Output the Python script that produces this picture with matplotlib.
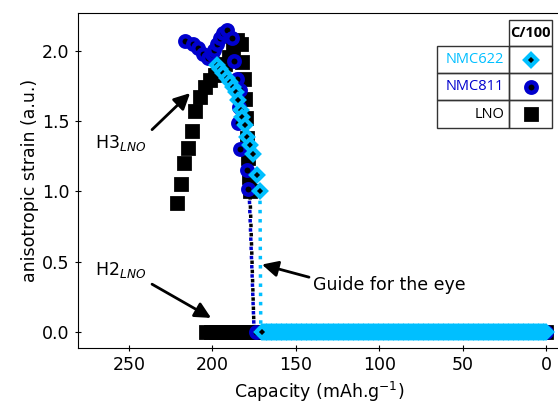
import matplotlib.pyplot as plt
from matplotlib.patches import Rectangle
from matplotlib.lines import Line2D

# LNO: H2 -> H3 branch (capacity in mAh/g, anisotropic strain)
lno_cap = [221.5, 219.0, 216.8, 214.4, 212.4, 210.4, 207.3, 204.3, 201.4, 198.5,
           195.5, 192.5, 190.0, 187.5, 185.0, 183.0, 182.0, 181.0, 180.5, 180.0,
           179.5, 178.5, 178.0, 177.5]
lno_strain = [0.92, 1.05, 1.20, 1.31, 1.43, 1.57, 1.67, 1.74, 1.79, 1.83,
              1.87, 1.91, 1.96, 2.02, 2.08, 2.05, 1.92, 1.80, 1.66, 1.52,
              1.38, 1.24, 1.10, 1.00]
lno_zero_cap = [0, 3, 6, 9, 12, 15, 18, 21, 24, 27, 30, 33, 36, 39, 42, 45, 48,
                51, 54, 57, 60, 63, 66, 69, 72, 75, 78, 81, 84, 87, 90, 93, 96,
                99, 102, 105, 108, 111, 114, 117, 120, 123, 126, 129, 132, 135,
                138, 141, 144, 147, 150, 153, 156, 159, 162, 165, 168, 171, 174,
                177, 180, 183, 186, 189, 192, 195, 198, 201, 204]
lno_guide_cap = [177.5, 175.0]
lno_guide_strain = [1.00, 0.00]

# NMC811
nmc811_cap = [216.4, 211.4, 208.4, 205.4, 202.4, 200.4, 198.8, 197.4, 195.4, 193.5,
              191.4, 188.4, 187.0, 185.5, 183.5, 184.0, 184.5, 183.5, 179.5, 178.5]
nmc811_strain = [2.07, 2.05, 2.02, 1.98, 1.95, 1.98, 2.01, 2.05, 2.09, 2.13,
                 2.15, 2.09, 1.93, 1.80, 1.72, 1.60, 1.49, 1.30, 1.15, 1.02]
nmc811_zero_cap = [0, 2, 6, 10, 14, 18, 22, 26, 30, 34, 38, 42, 46, 50, 54, 58,
                   62, 66, 70, 74, 78, 82, 86, 90, 94, 98, 102, 106, 110, 114,
                   118, 122, 126, 130, 134, 138, 142, 146, 150, 154, 158, 162,
                   166, 170, 174]
nmc811_guide_cap = [178.0, 175.0]
nmc811_guide_strain = [1.00, 0.00]

# NMC622
nmc622_cap = [197.5, 195.5, 193.5, 191.5, 189.5, 187.5, 186.0, 184.5, 183.0, 182.0,
              180.5, 179.5, 177.5, 175.5, 173.5, 171.5]
nmc622_strain = [1.90, 1.87, 1.84, 1.81, 1.78, 1.74, 1.71, 1.65, 1.58, 1.53,
                 1.47, 1.39, 1.33, 1.27, 1.12, 1.00]
nmc622_zero_cap = [
    0, 1, 2, 3, 4, 5, 6, 7, 8, 9, 10, 11, 12, 13, 14, 15, 16, 17, 18, 19,
    20, 21, 22, 23, 24, 25, 26, 27, 28, 29, 30, 31, 32, 33, 34, 35, 36, 37,
    38, 39, 40, 41, 42, 43, 44, 45, 46, 47, 48, 49, 50, 51, 52, 53, 54, 55,
    56, 57, 58, 59, 60, 61, 62, 63, 64, 65, 66, 67, 68, 69, 70, 71, 72, 73,
    74, 75, 76, 77, 78, 79, 80, 81, 82, 83, 84, 85, 86, 87, 88, 89, 90, 91,
    92, 93, 94, 95, 96, 97, 98, 99, 100, 101, 102, 103, 104, 105, 106, 107,
    108, 109, 110, 111, 112, 113, 114, 115, 116, 117, 118, 119, 120, 121,
    122, 123, 124, 125, 126, 127, 128, 129, 130, 131, 132, 133, 134, 135,
    136, 137, 138, 139, 140, 141, 142, 143, 144, 145, 146, 147, 148, 149,
    150, 151, 152, 153, 154, 155, 156, 157, 158, 159, 160, 161, 162, 163,
    164, 165, 166, 167, 168, 169, 170.5]
nmc622_guide_cap = [171.5, 171.0]
nmc622_guide_strain = [1.00, 0.00]

materials = ["NMC622", "NMC811", "LNO"]
rate_label = "C/100"

CYAN = "#00BFFF"
BLUE = "#0000CD"

lno_style = dict(marker="s", ms=8, mfc="black", mec="black", mew=2, ls="none")
nmc811_style = dict(marker="o", ms=7.5, mfc="black", mec=BLUE, mew=3.2, ls="none")
nmc622_style = dict(marker="D", ms=6.5, mfc="black", mec=CYAN, mew=3.0, ls="none")

fig = plt.figure(figsize=(5.58, 4.07), dpi=100)
ax = fig.add_axes([78 / 558, 59 / 407, 482 / 558, 335 / 407])

# dotted guides; black and blue dots staggered so both stay visible
ax.plot(lno_guide_cap, lno_guide_strain, ls=(1.3, (1, 1.65)), lw=2.5, color="black")
ax.plot(nmc811_guide_cap, nmc811_guide_strain, ls=(0, (1, 1.65)), lw=2.5, color=BLUE)
ax.plot(nmc622_guide_cap, nmc622_guide_strain, ls=":", lw=2.5, color=CYAN)

# LNO
ax.plot(lno_cap, lno_strain, **lno_style)
ax.plot(lno_zero_cap, [0] * len(lno_zero_cap), **lno_style)

# NMC811
ax.plot(nmc811_cap, nmc811_strain, **nmc811_style)
ax.plot(nmc811_zero_cap, [0] * len(nmc811_zero_cap), **nmc811_style)

# NMC622
ax.plot(nmc622_cap, nmc622_strain, **nmc622_style)
ax.plot(nmc622_zero_cap, [0] * len(nmc622_zero_cap), **nmc622_style)

ax.set_xlim(280.6, -8.4)
ax.set_ylim(-0.114, 2.27)
ax.set_xticks([250, 200, 150, 100, 50, 0])
ax.set_yticks([0.0, 0.5, 1.0, 1.5, 2.0])
ax.tick_params(direction="inout", length=5, labelsize=12.5)
ax.set_xlabel("Capacity (mAh.g$^{-1}$)", fontsize=12.5)
ax.set_ylabel("anisotropic strain (a.u.)", fontsize=12.5, labelpad=2)

# phase annotations
arrow = dict(arrowstyle="-|>", color="black", lw=2, mutation_scale=24,
             shrinkA=0, shrinkB=0)
ax.text(270.4, 1.345, "H3$_{LNO}$", fontsize=12.5, va="center", ha="left")
ax.annotate("", xy=(213.4, 1.70), xytext=(236.2, 1.44), arrowprops=arrow)
ax.text(270.4, 0.44, "H2$_{LNO}$", fontsize=12.5, va="center", ha="left")
ax.annotate("", xy=(200.8, 0.10), xytext=(236.2, 0.34), arrowprops=arrow)
ax.text(139.7, 0.335, "Guide for the eye", fontsize=12.5, va="center", ha="left")
ax.annotate("", xy=(170.3, 0.48), xytext=(142.1, 0.39), arrowprops=arrow)

# table-style legend in the upper right corner (pixel layout)
W, H = 558, 407


def fx(px):
    return px / W


def fy(py):
    return 1 - py / H


edge = "#333333"
name_l, name_r, mark_r = 437, 509, 552
rows = [46, 73, 100, 128]
fig.add_artist(Rectangle((fx(name_r), fy(rows[0])), fx(mark_r) - fx(name_r),
                         fy(20) - fy(rows[0]), transform=fig.transFigure,
                         fill=False, ec=edge, lw=1))
fig.text(fx((name_r + mark_r) / 2), fy(33), rate_label, ha="center", va="center",
         fontsize=10.5, fontweight="bold", family="Open Sans")

name_colors = [CYAN, BLUE, "black"]
styles = [nmc622_style, nmc811_style, lno_style]
for i, (name, col, st) in enumerate(zip(materials, name_colors, styles)):
    top, bot = rows[i], rows[i + 1]
    for left, right in [(name_l, name_r), (name_r, mark_r)]:
        fig.add_artist(Rectangle((fx(left), fy(bot)), fx(right) - fx(left),
                                 fy(top) - fy(bot), transform=fig.transFigure,
                                 fill=False, ec=edge, lw=1))
    yc = fy((top + bot) / 2)
    fig.text(fx(name_r - 5), yc, name, ha="right", va="center", color=col,
             fontsize=10.5, family="Open Sans")
    fig.add_artist(Line2D([fx((name_r + mark_r) / 2)], [yc],
                          transform=fig.transFigure, **st))

fig.savefig("out.png", dpi=100)
